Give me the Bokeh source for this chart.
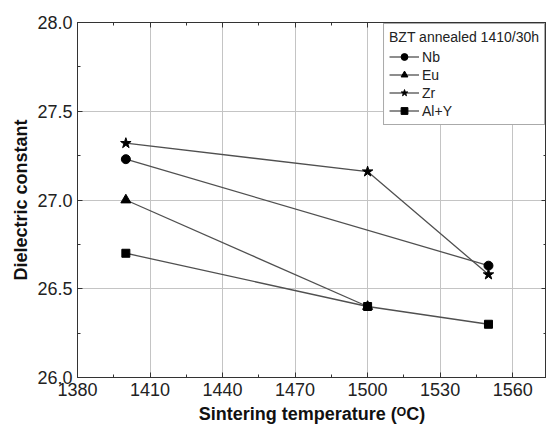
from bokeh.plotting import figure
from bokeh.models import LinearAxis, Legend, LegendItem, FixedTicker, Range1d
from bokeh.embed import file_html
from bokeh.resources import INLINE

# Dielectric constant vs sintering temperature for BZT doped with various ions
temp_nb = [1400, 1550]
eps_nb = [27.23, 26.63]

temp_eu = [1400, 1500]
eps_eu = [27.00, 26.40]

temp_zr = [1400, 1500, 1550]
eps_zr = [27.32, 27.16, 26.58]

temp_aly = [1400, 1500, 1550]
eps_aly = [26.70, 26.40, 26.30]

x_ticks = [1380, 1410, 1440, 1470, 1500, 1530, 1560]
y_ticks = [26.0, 26.5, 27.0, 27.5, 28.0]

FONT = "Liberation Sans"
LINE_COLOR = "#505050"

p = figure(width=546, height=427, output_backend="svg", toolbar_location=None,
           x_range=Range1d(1380, 1574), y_range=Range1d(26.0, 28.0),
           min_border_left=77, min_border_right=0, min_border_top=22, min_border_bottom=50)

p.outline_line_color = "#333333"
p.outline_line_width = 1

# gridlines at major ticks only
p.xgrid.ticker = FixedTicker(ticks=x_ticks[1:])
p.ygrid.ticker = FixedTicker(ticks=[26.5, 27.0, 27.5])
for g in (p.xgrid, p.ygrid):
    g.grid_line_color = "#c4c4c4"
    g.grid_line_width = 1


def style_axis(ax, ticks, minor, fmt=None):
    ax.ticker = FixedTicker(ticks=ticks, minor_ticks=minor)
    ax.major_tick_in = 5
    ax.major_tick_out = 0
    ax.minor_tick_in = 3
    ax.minor_tick_out = 0
    ax.axis_line_color = "#333333"
    ax.major_tick_line_color = "#333333"
    ax.minor_tick_line_color = "#333333"
    ax.major_label_text_font = FONT
    ax.major_label_text_font_size = "18px"
    ax.major_label_text_color = "#222222"
    if fmt is None:
        # mirror axis: ticks only
        ax.major_label_overrides = {t: "" for t in ticks}
        ax.major_label_standoff = 0
    else:
        ax.major_label_overrides = {t: fmt.format(t) for t in ticks}


x_minor = [1395, 1425, 1455, 1485, 1515, 1545, 1575]
y_minor = [26.25, 26.75, 27.25, 27.75]

style_axis(p.xaxis[0], x_ticks, x_minor, "{:.0f}")
style_axis(p.yaxis[0], y_ticks, y_minor, "{:.1f}")
p.xaxis[0].major_label_standoff = 5
p.yaxis[0].major_label_standoff = 5

p.xaxis.axis_label = "Sintering temperature (ᴼC)"
p.yaxis.axis_label = "Dielectric constant"
for ax in (p.xaxis[0], p.yaxis[0]):
    ax.axis_label_text_font = FONT
    ax.axis_label_text_font_size = "18px"
    ax.axis_label_text_font_style = "bold"
    ax.axis_label_text_color = "#111111"
p.xaxis[0].axis_label_standoff = 5
p.yaxis[0].axis_label_standoff = 3

top_ax = LinearAxis()
style_axis(top_ax, x_ticks, x_minor)
p.add_layout(top_ax, "above")
right_ax = LinearAxis()
style_axis(right_ax, y_ticks, y_minor)
p.add_layout(right_ax, "right")

series = [
    ("Nb", temp_nb, eps_nb, "circle", 9),
    ("Eu", temp_eu, eps_eu, "triangle", 10),
    ("Zr", temp_zr, eps_zr, "star", 11),
    ("Al+Y", temp_aly, eps_aly, "square", 8),
]

items = []
for name, xs, ys, marker, size in series:
    ln = p.line(xs, ys, line_color=LINE_COLOR, line_width=1.3)
    mk = p.scatter(xs, ys, marker=marker, size=size, fill_color="black", line_color="black")
    items.append(LegendItem(label=name, renderers=[ln, mk]))

legend = Legend(items=items, location="top_right", margin=1,
                title="BZT annealed 1410/30h", title_text_font=FONT,
                title_text_font_size="14px", title_text_font_style="normal",
                title_text_color="#222222", title_standoff=3,
                label_text_font=FONT, label_text_font_size="14px",
                label_text_color="#222222",
                glyph_width=30, glyph_height=17, label_height=17,
                label_standoff=3, spacing=1, padding=5,
                border_line_color="#555555", border_line_width=1,
                background_fill_alpha=1.0)
p.add_layout(legend)

open("out.html", "w").write(file_html(p, INLINE))
